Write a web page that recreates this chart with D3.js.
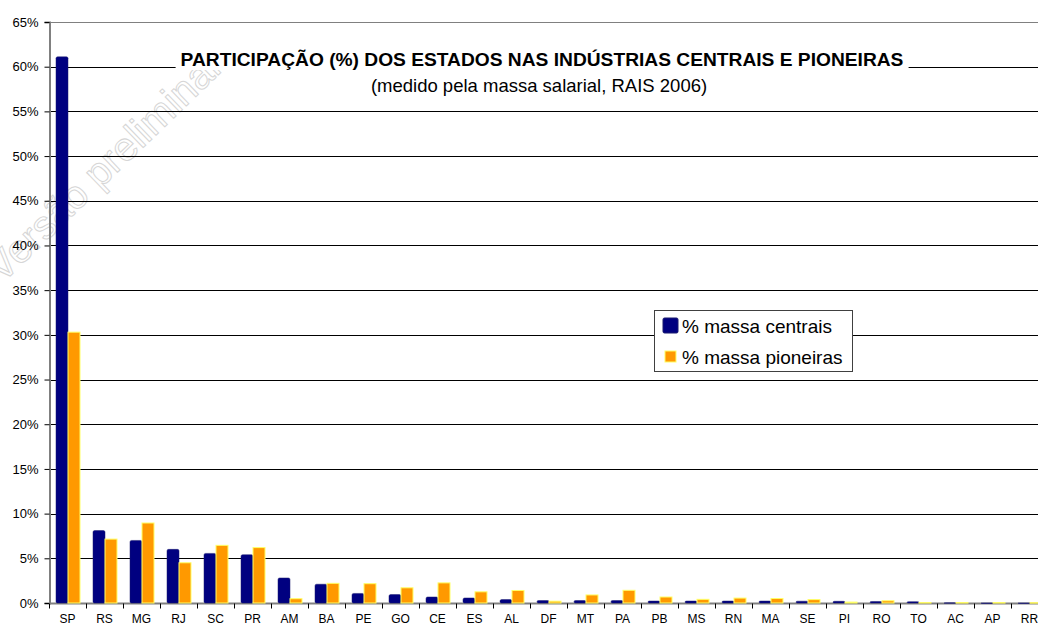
<!DOCTYPE html>
<html>
<head>
<meta charset="utf-8">
<script src="https://cdn.jsdelivr.net/npm/d3@7"></script>
<style>
  body { margin: 0; background: #fff; overflow: hidden; }
  svg { font-family: Arial, "Liberation Sans", sans-serif; display: block; }
</style>
</head>
<body>
<div id="chart"></div>
<script>
'use strict';

var estados = [ 'SP', 'RS', 'MG', 'RJ', 'SC', 'PR', 'AM', 'BA', 'PE', 'GO', 'CE', 'ES', 'AL',
  'DF', 'MT', 'PA', 'PB', 'MS', 'RN', 'MA', 'SE', 'PI', 'RO', 'TO', 'AC', 'AP', 'RR' ];

var centrais = [ 61.1, 8.1, 7.0, 6.0, 5.55, 5.4, 2.8, 2.1, 1.07, 0.94, 0.67, 0.56, 0.38,
  0.27, 0.27, 0.27, 0.22, 0.22, 0.22, 0.22, 0.2, 0.19, 0.17, 0.15, 0.02, 0.01, 0.01 ];

var pioneiras = [ 30.3, 7.15, 8.95, 4.5, 6.45, 6.2, 0.48, 2.2, 2.16, 1.7, 2.25, 1.25, 1.4,
  0.2, 0.9, 1.42, 0.67, 0.41, 0.55, 0.5, 0.38, 0.1, 0.25, 0.05, 0.05, 0.05, 0.04 ];

var seriesNames = [ '% massa centrais', '% massa pioneiras' ];
var seriesColors = [ '#000080', '#FF9900' ];
var yTicks = [ 0, 5, 10, 15, 20, 25, 30, 35, 40, 45, 50, 55, 60, 65 ];

var baseWidth = 1038,
    baseHeight = 628,
    margin = { top: 22, right: 0, bottom: 25, left: 49 };

var height = baseHeight - margin.top - margin.bottom;
var bandStep = 37;

var x = d3.scaleBand()
    .domain( estados )
    .range( [ 0, bandStep * estados.length ] );

var y = d3.scaleLinear()
    .domain( [ 0, 65 ] )
    .range( [ height, 0 ] );

var root = d3.select( '#chart' )
  .append( 'svg' )
    .attr( 'width', baseWidth )
    .attr( 'height', baseHeight );

// faint watermark behind the chart
root.append( 'text' )
    .attr( 'transform', 'translate(2,284) rotate(-44)' )
    .style( 'font-size', '40px' )
    .style( 'fill', 'none' )
    .style( 'stroke', '#d6d6d6' )
    .attr( 'stroke-width', 1 )
    .text( 'Versão preliminar' );

var svg = root.append( 'g' )
    .attr( 'transform', 'translate(' + margin.left + ',' + margin.top + ')' );

// gridlines
svg.selectAll( '.grid' )
    .data( yTicks.slice( 1 ) )
  .enter().append( 'line' )
    .attr( 'x1', 0 )
    .attr( 'x2', baseWidth - margin.left )
    .attr( 'y1', function( d ) { return Math.round( y( d ) ) + 0.5; } )
    .attr( 'y2', function( d ) { return Math.round( y( d ) ) + 0.5; } )
    .style( 'stroke', function( d ) { return d === 65 ? '#808080' : '#000' } )
    .attr( 'stroke-width', 1 );

// y axis
var yAxis = svg.append( 'g' )
    .attr( 'transform', 'translate(0.5,0)' )
    .call( d3.axisLeft( y ).tickValues( yTicks ).tickSize( 5 )
      .tickFormat( function( d ) { return d + '%'; } ) );
yAxis.select( '.domain' ).attr( 'stroke', '#808080' ).attr( 'stroke-width', 2 );
yAxis.selectAll( '.tick line' ).attr( 'stroke', '#000' );
yAxis.selectAll( 'text' )
    .style( 'font-size', '13px' )
    .attr( 'fill', '#000' )
    .attr( 'x', -11 );

// x axis
var xAxisG = svg.append( 'g' )
    .attr( 'transform', 'translate(0,' + ( height + 0.5 ) + ')' );
xAxisG.append( 'line' )
    .attr( 'x1', 0 )
    .attr( 'x2', baseWidth - margin.left )
    .style( 'stroke', '#808080' )
    .attr( 'stroke-width', 2 );
xAxisG.selectAll( '.xtick' )
    .data( estados )
  .enter().append( 'line' )
    .attr( 'x1', function( d ) { return Math.round( x( d ) ) + 0.5; } )
    .attr( 'x2', function( d ) { return Math.round( x( d ) ) + 0.5; } )
    .attr( 'y1', 0 )
    .attr( 'y2', 5 )
    .style( 'stroke', '#000' );
xAxisG.selectAll( '.xlabel' )
    .data( estados )
  .enter().append( 'text' )
    .attr( 'x', function( d ) { return x( d ) + x.bandwidth() / 2; } )
    .attr( 'y', 19 )
    .attr( 'text-anchor', 'middle' )
    .style( 'font-size', '12px' )
    .text( function( d ) { return d; } );

// bars
var barW = 12;
var offsets = [ -barW + 0.5, 0.5 ];
[ centrais, pioneiras ].forEach( function( values, s ) {
  svg.selectAll( '.bar' + s )
      .data( values )
    .enter().append( 'rect' )
      .attr( 'x', function( d, i ) { return x( estados[ i ] ) + x.bandwidth() / 2 + offsets[ s ]; } )
      .attr( 'width', barW )
      .attr( 'y', function( d ) { return y( d ); } )
      .attr( 'height', function( d ) { return Math.max( 0.5, y( 0 ) - y( d ) ); } )
      .attr( 'rx', s === 0 ? 1.5 : 0 )
      .attr( 'fill', seriesColors[ s ] )
      .style( 'stroke', s === 0 ? '#1a1a6e' : '#FFFF66' )
      .attr( 'stroke-width', s === 0 ? 0.5 : 1 );
} );

// title, on a white box that cuts the gridline
var titleX = 542 - margin.left;
var titleY = 66 - margin.top;
var titleBox = svg.append( 'rect' ).attr( 'fill', '#fff' );
var title = svg.append( 'text' )
    .attr( 'x', titleX )
    .attr( 'y', titleY )
    .attr( 'text-anchor', 'middle' )
    .style( 'font-size', '19.2px' )
    .style( 'font-weight', 'bold' )
    .text( 'PARTICIPAÇÃO (%) DOS ESTADOS NAS INDÚSTRIAS CENTRAIS E PIONEIRAS' );
var tb = title.node().getBBox();
titleBox
    .attr( 'x', tb.x - 5 )
    .attr( 'y', tb.y )
    .attr( 'width', tb.width + 10 )
    .attr( 'height', tb.height );
svg.append( 'text' )
    .attr( 'x', titleX - 3 )
    .attr( 'y', titleY + 26 )
    .attr( 'text-anchor', 'middle' )
    .style( 'font-size', '18.5px' )
    .text( '(medido pela massa salarial, RAIS 2006)' );

// legend
var legend = svg.append( 'g' )
    .attr( 'transform', 'translate(' + ( 654 - margin.left ) + ',' + ( 310 - margin.top ) + ')' );
legend.append( 'rect' )
    .attr( 'x', 0.5 )
    .attr( 'y', 0.5 )
    .attr( 'width', 198 )
    .attr( 'height', 61 )
    .attr( 'fill', '#fff' )
    .style( 'stroke', '#404040' );
seriesNames.forEach( function( name, i ) {
  var g = legend.append( 'g' ).attr( 'transform', 'translate(0,' + ( 16 + i * 31 ) + ')' );
  g.append( 'rect' )
      .attr( 'x', i === 0 ? 9 : 11 )
      .attr( 'y', i === 0 ? -8 : -6 )
      .attr( 'width', i === 0 ? 15 : 11 )
      .attr( 'height', i === 0 ? 15 : 11 )
      .attr( 'rx', i === 0 ? 1.5 : 0 )
      .attr( 'fill', seriesColors[ i ] )
      .style( 'stroke', i === 0 ? '#1a1a6e' : '#FFFF66' );
  g.append( 'text' )
      .attr( 'x', 28 )
      .attr( 'y', 7 )
      .style( 'font-size', '19px' )
      .text( name );
} );
</script>
</body>
</html>
